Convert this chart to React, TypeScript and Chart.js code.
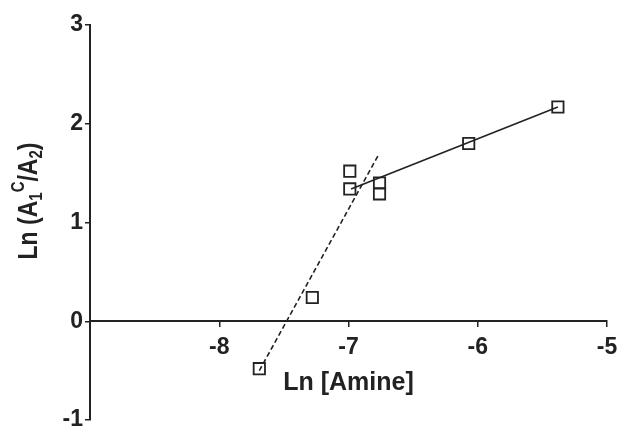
import React, { useEffect, useRef } from "react";
import { Chart, registerables } from "chart.js";

Chart.register(...registerables);

// Measured points: ln of amine concentration vs ln(A1C/A2)
const amineLn = [-7.69, -7.28, -6.99, -6.99, -6.76, -6.76, -6.07, -5.38];
const ratioLn = [-0.48, 0.24, 1.52, 1.34, 1.40, 1.29, 1.80, 2.17];

// Fitted segments: steep (dashed) and shallow (solid)
const steepFitX = [-7.69, -6.77];
const steepFitY = [-0.5, 1.68];
const shallowFitX = [-6.98, -5.38];
const shallowFitY = [1.34, 2.17];

// Axis ticks
const xTickValues = [-8, -7, -6, -5];
const yTickValues = [-1, 0, 1, 2, 3];

const FONT = "'Liberation Sans', Arial, sans-serif";
const INK = "#222222";

const toXY = (xs: number[], ys: number[]) => xs.map((x, i) => ({ x, y: ys[i] }));

// Rotated y-axis title with subscripts and a superscript: Ln (A1^C/A2)
const yTitlePlugin = {
  id: "yTitleRich",
  afterDraw(chart: any) {
    const ctx = chart.ctx as CanvasRenderingContext2D;
    const parts: { t: string; size: number; dy: number }[] = [
      { t: "Ln (A", size: 23, dy: 0 },
      { t: "1", size: 15, dy: 4 },
      { t: "C", size: 15, dy: -11 },
      { t: "/A", size: 23, dy: 0 },
      { t: "2", size: 15, dy: 4 },
      { t: ")", size: 23, dy: 0 },
    ];
    ctx.save();
    let total = 0;
    const widths = parts.map((p) => {
      ctx.font = `bold ${p.size}px ${FONT}`;
      const w = ctx.measureText(p.t).width;
      total += w;
      return w;
    });
    const cx = 37;
    const cy = 201;
    ctx.translate(cx, cy);
    ctx.rotate(-Math.PI / 2);
    ctx.scale(1, 1.2);
    ctx.fillStyle = INK;
    ctx.textBaseline = "alphabetic";
    ctx.textAlign = "left";
    let x = -total / 2;
    parts.forEach((p, i) => {
      ctx.font = `bold ${p.size}px ${FONT}`;
      ctx.fillText(p.t, x, p.dy);
      x += widths[i];
    });
    ctx.restore();
  },
};

export default function App() {
  const canvasRef = useRef<HTMLCanvasElement | null>(null);

  useEffect(() => {
    if (!canvasRef.current) return;
    const chart = new Chart(canvasRef.current, {
      type: "scatter",
      data: {
        datasets: [
          {
            label: "data",
            data: toXY(amineLn, ratioLn),
            pointStyle: "rect",
            pointRadius: 8,
            pointHoverRadius: 8,
            borderColor: INK,
            borderWidth: 1.8,
            backgroundColor: "rgba(0,0,0,0)",
            showLine: false,
          },
          {
            label: "steep fit",
            data: toXY(steepFitX, steepFitY),
            showLine: true,
            pointRadius: 0,
            borderColor: INK,
            borderWidth: 1.6,
            borderDash: [5, 3],
          },
          {
            label: "shallow fit",
            data: toXY(shallowFitX, shallowFitY),
            showLine: true,
            pointRadius: 0,
            borderColor: INK,
            borderWidth: 1.6,
          },
        ],
      },
      options: {
        animation: false,
        responsive: false,
        maintainAspectRatio: false,
        layout: { padding: { left: 8, right: 17, top: 25, bottom: 10 } },
        plugins: {
          legend: { display: false },
          tooltip: { enabled: false },
        },
        scales: {
          x: {
            type: "linear",
            min: -9,
            max: -5,
            position: { y: 0 } as any,
            afterBuildTicks: (scale: any) => {
              scale.ticks = xTickValues.map((value) => ({ value }));
            },
            afterFit: (scale: any) => {
              scale.paddingLeft = 0;
              scale.paddingRight = 0;
              scale.paddingTop = 0;
              scale.paddingBottom = 0;
            },
            grid: {
              drawOnChartArea: false,
              drawTicks: true,
              tickLength: 5,
              color: INK,
              lineWidth: 1.5,
            },
            border: { display: true, color: INK, width: 2 },
            ticks: {
              color: INK,
              padding: 8,
              font: { family: FONT, size: 23, weight: "bold" },
            },
            title: {
              display: true,
              text: "Ln [Amine]",
              color: INK,
              padding: { top: -2, bottom: 0 },
              font: { family: FONT, size: 25, weight: "bold" },
            },
          },
          y: {
            type: "linear",
            min: -1,
            max: 3,
            position: "left",
            afterBuildTicks: (scale: any) => {
              scale.ticks = yTickValues.map((value) => ({ value }));
            },
            afterFit: (scale: any) => {
              scale.width = 82;
              scale.paddingTop = 0;
              scale.paddingBottom = 0;
            },
            grid: {
              drawOnChartArea: false,
              drawTicks: true,
              tickLength: 5,
              color: INK,
              lineWidth: 1.5,
            },
            border: { display: true, color: INK, width: 2 },
            ticks: {
              color: INK,
              padding: 2,
              font: { family: FONT, size: 23, weight: "bold" },
            },
          },
        },
      },
      plugins: [yTitlePlugin],
    });
    return () => chart.destroy();
  }, []);

  return (
    <div style={{ position: "fixed", left: 0, top: 0, width: 624, height: 430, background: "#fff" }}>
      <canvas ref={canvasRef} width={624} height={430} />
    </div>
  );
}
